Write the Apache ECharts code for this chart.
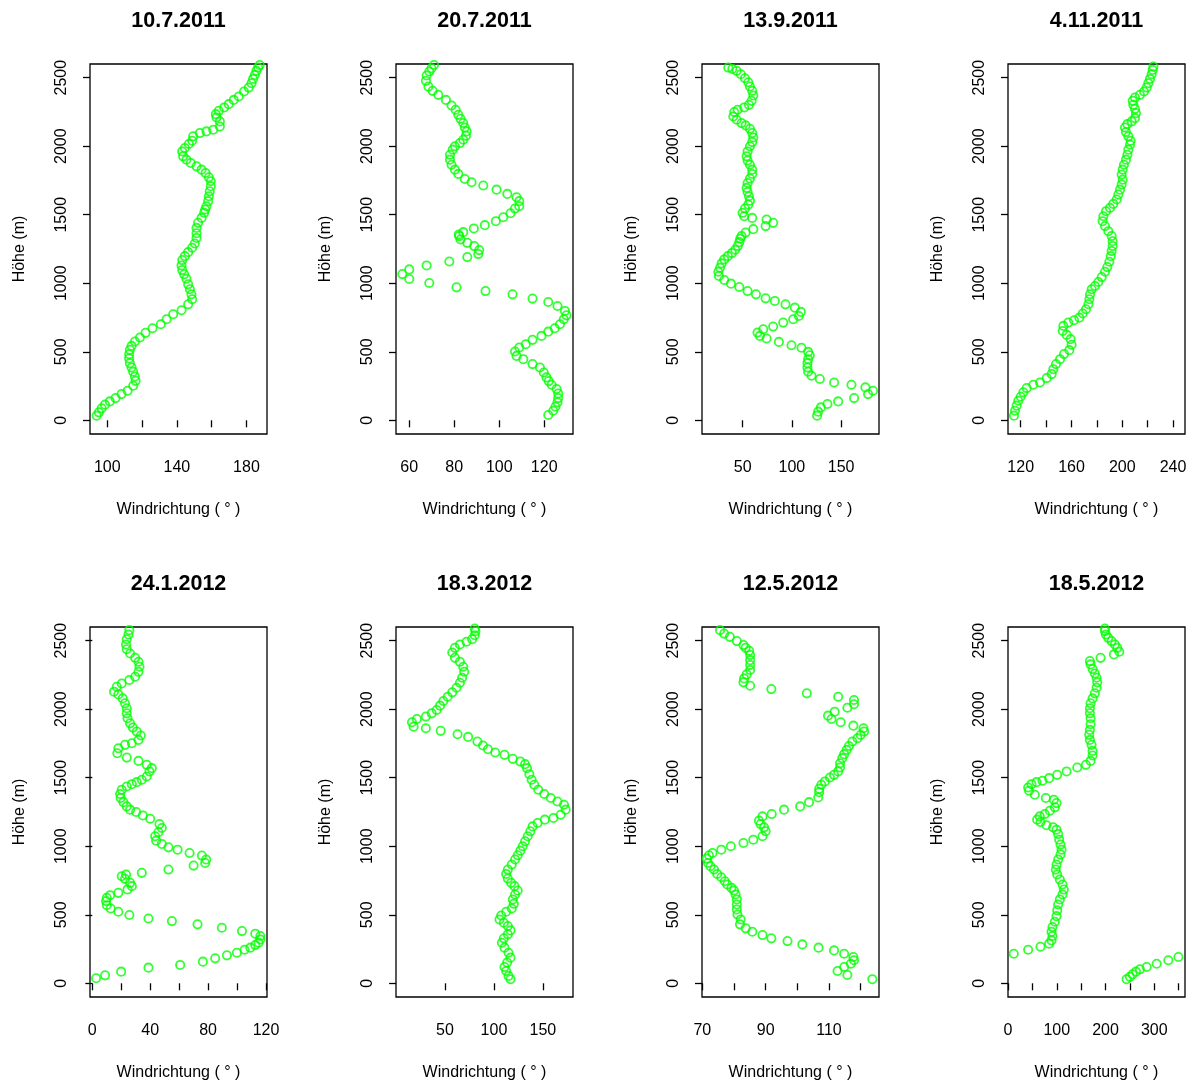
<!DOCTYPE html>
<html>
<head>
<meta charset="utf-8">
<script src="https://cdn.jsdelivr.net/npm/echarts@6/dist/echarts.min.js"></script>
<style>
html,body{margin:0;padding:0;background:#fff;}
#chart{width:1197px;height:1086px;}
</style>
</head>
<body>
<div id="chart"></div>
<script>
// ---- data: [Windrichtung (°), Höhe (m)] ----
const titles = ['10.7.2011','20.7.2011','13.9.2011','4.11.2011','24.1.2012','18.3.2012','12.5.2012','18.5.2012'];

const p_10_7_2011 = [[93.9,34],[95.2,58],[96.8,87],[98.7,114],[101.5,138],[104.8,162],[108.2,191],[111.7,216],[114.9,252],[116.3,288],[115.9,320],[114.9,354],[114,385],[113,417],[112.6,451],[112.6,482],[113,514],[114,543],[115.9,575],[118.8,604],[122,638],[126,672],[130.8,701],[134.1,737],[137.9,774],[142.7,803],[146.5,846],[148.8,883],[148.4,919],[147.5,956],[146.5,992],[145.5,1033],[144.2,1065],[143.1,1096],[142.7,1130],[143.1,1169],[144.6,1198],[146.5,1227],[148.8,1259],[150.3,1290],[151.3,1330],[151.3,1365],[151.3,1404],[152.2,1441],[154.2,1477],[155.7,1514],[156.3,1538],[157,1562],[158,1599],[158.4,1635],[158.9,1671],[159.5,1708],[159.5,1744],[158.4,1773],[156.5,1805],[154.2,1829],[151.3,1853],[148,1878],[145.5,1902],[143.6,1926],[143.1,1962],[144.6,1987],[146.9,2016],[148.8,2040],[149.4,2072],[153.2,2096],[157,2108],[160.9,2120],[164.7,2144],[164.7,2181],[162.8,2210],[162.4,2234],[164.1,2258],[167.2,2283],[169.8,2307],[172.7,2338],[175.6,2363],[178.6,2399],[181.3,2428],[182.9,2460],[183.8,2491],[184.8,2520],[185.7,2550],[186.7,2574],[187.6,2593]];

const p_20_7_2011 = [[121.8,39],[124,70],[125,99],[125.9,131],[126.2,162],[126.2,196],[125.5,228],[123.3,259],[122,286],[121,313],[119.8,349],[118.1,385],[114.8,410],[110.7,446],[107.7,470],[107,502],[108.9,531],[111.8,555],[114.8,587],[118.8,616],[121.8,647],[124.7,672],[127,701],[128.7,737],[129.9,766],[129.2,798],[125.9,834],[121.8,863],[114.8,888],[105.9,919],[93.9,943],[81,970],[68.9,1002],[60,1031],[56.9,1067],[60,1101],[67.7,1130],[77.8,1159],[85.8,1191],[90.7,1213],[91.1,1242],[88.9,1271],[85.8,1295],[82.8,1319],[82.2,1344],[82,1356],[84,1373],[88.7,1400],[93.6,1424],[98.5,1453],[101.8,1482],[105,1511],[107,1545],[108.9,1562],[108.9,1599],[107.7,1628],[103.6,1652],[98.8,1683],[92.9,1713],[87.7,1737],[84.7,1761],[81.8,1798],[80.3,1829],[78.8,1865],[78.1,1902],[78.1,1938],[79.3,1975],[80.3,1999],[82.5,2023],[84,2047],[85.2,2076],[85.5,2108],[84.7,2137],[84,2169],[82.8,2200],[81.8,2229],[80.6,2266],[78.8,2297],[76.3,2338],[72.9,2375],[70.4,2404],[68.5,2435],[67.4,2477],[67.7,2516],[68.9,2545],[69.9,2569],[71,2593]];

const p_13_9_2011 = [[125.6,34],[126.7,63],[129.4,94],[136.1,119],[147,138],[163.2,162],[177.4,191],[182.4,216],[174.7,240],[160.5,259],[142.9,276],[128.4,301],[119.9,325],[116.5,354],[115.8,385],[115.8,417],[116.5,446],[118.2,475],[116.5,499],[109.8,529],[99.6,548],[86.8,572],[74.3,597],[67.5,616],[65.1,640],[70.9,664],[81,684],[91.2,713],[101.3,737],[107.1,761],[109.1,791],[103,822],[93.5,846],[82.7,871],[73.3,890],[63.5,919],[55,943],[46.6,973],[38.1,997],[31.3,1024],[25.9,1053],[25.3,1084],[27,1113],[28.6,1145],[31.3,1174],[35,1198],[39,1220],[42.5,1245],[45,1271],[46.6,1300],[47.5,1325],[48.9,1344],[53,1370],[60.8,1395],[73.3,1417],[81,1441],[74.3,1465],[59.7,1477],[51.6,1489],[49.9,1514],[52.3,1545],[55.7,1574],[57.4,1603],[56.4,1635],[55,1666],[54,1696],[55,1732],[57.4,1764],[59.7,1797],[59.7,1829],[57.4,1865],[55,1895],[54,1926],[55,1962],[57.4,1999],[59.7,2030],[60.8,2064],[59.7,2096],[57.4,2127],[53,2152],[48.9,2169],[43.9,2193],[40.5,2217],[41.5,2249],[44.9,2266],[51.6,2283],[56.4,2302],[59.1,2331],[60.8,2370],[59.7,2404],[57.4,2436],[55.7,2467],[52.3,2496],[48.2,2525],[43.9,2550],[39.5,2564],[35.4,2574]];

const p_4_11_2011 = [[114.7,34],[115.5,70],[116.8,107],[118.1,143],[120,172],[122.1,204],[124.7,235],[129.9,259],[135.2,276],[140.5,308],[144.4,337],[145.7,373],[147.8,410],[151,446],[154.1,483],[158.3,512],[160.1,551],[159.3,592],[156.2,623],[153.1,652],[153.6,689],[157.5,713],[162,730],[166.2,749],[168.8,779],[171.4,810],[173.3,847],[174.1,883],[174.6,919],[175.9,956],[178.5,980],[181.1,1009],[183.8,1045],[186.4,1084],[188.2,1118],[189.8,1157],[190.9,1198],[191.6,1235],[192.4,1271],[192.4,1307],[191.6,1344],[189,1380],[186.4,1417],[184.5,1453],[185.1,1489],[187.2,1526],[190.3,1550],[192.9,1579],[195.6,1611],[196.9,1647],[198.2,1683],[199.5,1720],[200.3,1756],[199.5,1793],[200.3,1829],[201.3,1865],[202.9,1902],[204,1938],[204.8,1975],[206.1,2011],[206.6,2040],[204.8,2072],[202.9,2103],[202.1,2137],[204,2161],[207.4,2181],[210,2205],[210.8,2241],[210,2273],[208.7,2302],[208.2,2331],[210,2355],[213.9,2375],[217.1,2399],[219.2,2428],[220.5,2460],[221.8,2491],[223.1,2525],[223.9,2557],[224.5,2581]];

const p_24_1_2012 = [[2.6,37],[8.8,58],[19.9,85],[38.8,114],[60.7,134],[76.4,158],[84.9,182],[93,204],[99.9,223],[105.2,245],[109.2,260],[112.6,279],[114.9,296],[116.1,320],[116.1,345],[112.6,362],[103.4,381],[89.5,405],[72.7,430],[55,454],[38.8,473],[25.6,498],[18,522],[12.7,546],[10,570],[9.5,600],[10,624],[12.3,643],[18,660],[24.3,685],[27.3,709],[26.1,733],[22.6,762],[20.3,781],[23.3,794],[34.2,806],[52.6,830],[70,859],[78,878],[78.7,903],[75.7,932],[67.2,951],[58.9,975],[52.6,992],[48,1017],[44.1,1041],[43.4,1073],[45.7,1102],[48,1133],[46.4,1162],[40,1201],[34.9,1225],[30.3,1250],[26.1,1267],[23.8,1291],[21.5,1322],[19.6,1352],[19.2,1381],[20.3,1412],[23.8,1436],[27.3,1453],[30.7,1468],[34.2,1485],[37.6,1509],[39.5,1546],[41.1,1570],[37.6,1594],[31.9,1623],[23.8,1647],[17.3,1679],[18,1715],[22.6,1740],[27.3,1752],[31.9,1776],[33.5,1808],[30.7,1837],[28,1866],[26.1,1897],[24.3,1934],[23.8,1970],[23.8,2007],[22.6,2043],[21,2079],[18,2108],[15,2128],[16.9,2164],[20.3,2188],[25.6,2213],[29.6,2237],[31.9,2273],[32.6,2310],[31.9,2346],[29.6,2375],[26.1,2407],[23.8,2438],[23.3,2472],[23.8,2511],[25,2545],[25.6,2577]];

const p_18_3_2012 = [[116.9,30],[114.9,54],[112.5,90],[110.8,119],[113.5,151],[116.9,187],[114.9,223],[110.8,260],[108.1,296],[110.1,328],[114.2,357],[116.9,386],[114.2,418],[110.1,442],[105.7,466],[107.4,495],[112.5,522],[118.2,546],[120.3,580],[119.3,612],[121.6,648],[124.3,677],[121,709],[117.6,733],[114.2,764],[112.5,798],[114.2,830],[118.2,866],[121.6,903],[124.3,934],[127,968],[129.4,1000],[131.8,1036],[134.5,1073],[137.2,1109],[139.5,1145],[144.6,1170],[152,1194],[160.8,1206],[168.3,1230],[173.3,1267],[171.6,1303],[164.9,1327],[158.1,1352],[151.4,1381],[145.3,1412],[141.2,1449],[138.5,1485],[136.2,1526],[133.8,1570],[131.8,1599],[127,1618],[119.3,1638],[110.8,1667],[101.3,1684],[93.9,1708],[88.8,1735],[83.1,1764],[73.6,1798],[62.8,1817],[45.6,1842],[30.4,1861],[17.9,1873],[16.2,1905],[21.2,1929],[30.4,1946],[36.4,1970],[41.5,1994],[44.9,2026],[48.3,2060],[52.7,2091],[57.4,2123],[61.8,2157],[65.2,2193],[67.5,2230],[69.6,2273],[68.6,2310],[65.2,2346],[60.1,2375],[57.4,2414],[60.1,2448],[65.2,2472],[71.9,2492],[77.7,2511],[80.4,2540],[81.1,2569],[80.4,2589]];

const p_12_5_2012 = [[123.7,30],[115.8,61],[112.7,90],[114.8,119],[116.9,143],[117.9,168],[117.7,192],[114.8,216],[111.6,240],[106.7,260],[101.6,284],[96.9,308],[91.8,328],[89,352],[85.8,376],[83.7,401],[81.9,430],[82.1,466],[81.1,502],[80.9,539],[80.9,575],[80.9,612],[80.5,648],[80,677],[79.2,696],[77.9,721],[77.1,745],[76,774],[74.7,798],[73.7,830],[72.6,854],[71.8,878],[71.4,910],[72.1,934],[73.2,951],[76,975],[79,1000],[83,1024],[86.1,1048],[89,1073],[90,1109],[89.5,1138],[88.4,1162],[87.9,1187],[89,1218],[91.9,1235],[95.8,1267],[100.9,1291],[103.7,1322],[106.6,1356],[106.9,1395],[106.9,1419],[107.6,1449],[108.7,1473],[110.3,1502],[111.6,1521],[112.9,1546],[113.5,1575],[113.5,1606],[114.2,1643],[114.8,1672],[115.6,1703],[116.3,1732],[117.4,1764],[119,1788],[120,1812],[121.1,1837],[120.9,1861],[117.7,1880],[113.7,1905],[110.8,1929],[109.7,1953],[111.8,1982],[115.8,2011],[117.9,2036],[117.9,2067],[112.9,2091],[103,2116],[91.8,2147],[85.1,2171],[83,2196],[83.2,2225],[84,2254],[85.1,2286],[85.1,2322],[85.1,2358],[85.1,2395],[84.8,2426],[83.7,2448],[83,2468],[80.9,2497],[78.7,2528],[76.9,2552],[75.6,2577]];

const p_18_5_2012 = [[243.2,30],[250,47],[255.5,66],[262.4,85],[270.6,102],[284.3,119],[304.9,143],[328.8,168],[349.4,192],[11.7,216],[41.2,245],[66.5,267],[84.3,289],[89.1,313],[91.2,345],[89.1,376],[91.2,410],[96,449],[99.4,490],[100.8,532],[102.8,575],[106.2,612],[111.7,648],[114.4,684],[111.7,721],[106.2,757],[100.8,794],[98,830],[99.4,866],[102.8,903],[107.6,939],[109.7,975],[107.6,1012],[104.9,1048],[102.8,1089],[99.4,1121],[92.5,1138],[78.8,1153],[66.5,1177],[59.7,1194],[65.1,1218],[75.4,1235],[85.7,1259],[96,1284],[99.4,1315],[93.9,1339],[77.5,1352],[54.9,1376],[43.2,1405],[41.2,1429],[48,1453],[58.3,1468],[70.6,1478],[84.3,1497],[100.8,1521],[120,1546],[141.9,1575],[159.7,1594],[169.3,1623],[173.4,1662],[173.4,1696],[171.3,1740],[167.9,1776],[166.5,1813],[167.9,1849],[169.3,1890],[169.3,1934],[167.9,1970],[167.9,2007],[169.3,2043],[173.4,2079],[178.1,2116],[181.6,2157],[183,2196],[181.6,2230],[178.1,2261],[173.4,2293],[169.3,2327],[167.9,2351],[189.8,2375],[217.2,2400],[228.2,2419],[224,2448],[219.2,2472],[212.4,2497],[205.5,2521],[200.7,2545],[198.7,2570],[198.7,2589]];

const profiles = [p_10_7_2011, p_20_7_2011, p_13_9_2011, p_4_11_2011, p_24_1_2012, p_18_3_2012, p_12_5_2012, p_18_5_2012];

// axis ranges and ticks
const xMin = [90.1, 54.1, 8.7, 110, -1.6, -0.1, 69.9, -0.1];
const xMax = [191.8, 132.8, 188.5, 249.4, 120.7, 180.8, 125.8, 363];
const xTickValues = [[100,120,140,160,180],[60,80,100,120],[50,100,150],[120,140,160,180,200,220,240],[0,20,40,60,80,100,120],[50,100,150],[70,80,90,100,110,120],[0,50,100,150,200,250,300,350]];
const xTickLabels = [[100,140,180],[60,80,100,120],[50,100,150],[120,160,200,240],[0,40,80,120],[50,100,150],[70,90,110],[0,100,200,300]];
const yMin = -100, yMax = 2600;
const yTickValues = [0,500,1000,1500,2000,2500];
const xTitle = 'Windrichtung ( ° )';
const yTitle = 'Höhe (m)';

// ---- layout ----
const FONT = 'Liberation Sans, Arial, Helvetica, sans-serif';
const colLeft = [90, 396, 702, 1008];
const rowTop = [64, 627];
const W = 177, H = 370;
const plain = v => String(v);

const grids = [], xAxes = [], yAxes = [], series = [], graphics = [];
for (let i = 0; i < 8; i++) {
  const c = i % 4, r = Math.floor(i / 4);
  grids.push({left: colLeft[c], top: rowTop[r], width: W, height: H, show: true,
    borderColor: '#000', borderWidth: 1.3, backgroundColor: 'transparent', containLabel: false});
  xAxes.push({type: 'value', gridIndex: i, min: xMin[i], max: xMax[i],
    axisLine: {show: false},
    axisTick: {show: true, inside: false, length: 7, customValues: xTickValues[i], lineStyle: {color: '#000', width: 1.3}},
    axisLabel: {show: true, customValues: xTickLabels[i], formatter: plain, fontSize: 16, color: '#000', fontFamily: FONT, margin: 26},
    splitLine: {show: false},
    name: xTitle, nameLocation: 'middle', nameGap: 68,
    nameTextStyle: {fontSize: 16, color: '#000', fontFamily: FONT}
  });
  yAxes.push({type: 'value', gridIndex: i, min: yMin, max: yMax,
    axisLine: {show: false},
    axisTick: {show: true, inside: false, length: 7, customValues: yTickValues, lineStyle: {color: '#000', width: 1.3}},
    axisLabel: {show: true, customValues: yTickValues, formatter: plain, rotate: 90, fontSize: 16, color: '#000', fontFamily: FONT, margin: 20},
    splitLine: {show: false},
    name: yTitle, nameLocation: 'middle', nameGap: 62, nameRotate: 90,
    nameTextStyle: {fontSize: 16, color: '#000', fontFamily: FONT}
  });
  series.push({type: 'scatter', xAxisIndex: i, yAxisIndex: i, data: profiles[i],
    symbol: 'circle', symbolSize: 8.3, silent: true, animation: false,
    itemStyle: {color: 'rgba(0,0,0,0)', borderColor: '#00ff00', borderWidth: 1.8}
  });
  graphics.push({type: 'text', x: colLeft[c] + W / 2, y: r === 0 ? 21 : 584,
    style: {text: titles[i], fontSize: 21.5, fontWeight: 'bold', fontFamily: FONT,
      fill: '#000', align: 'center', verticalAlign: 'middle'}});
}

const chart = echarts.init(document.getElementById('chart'), null, {renderer: 'canvas'});
chart.setOption({
  backgroundColor: '#ffffff',
  animation: false,
  grid: grids, xAxis: xAxes, yAxis: yAxes, series: series, graphic: graphics
});
</script>
</body>
</html>
